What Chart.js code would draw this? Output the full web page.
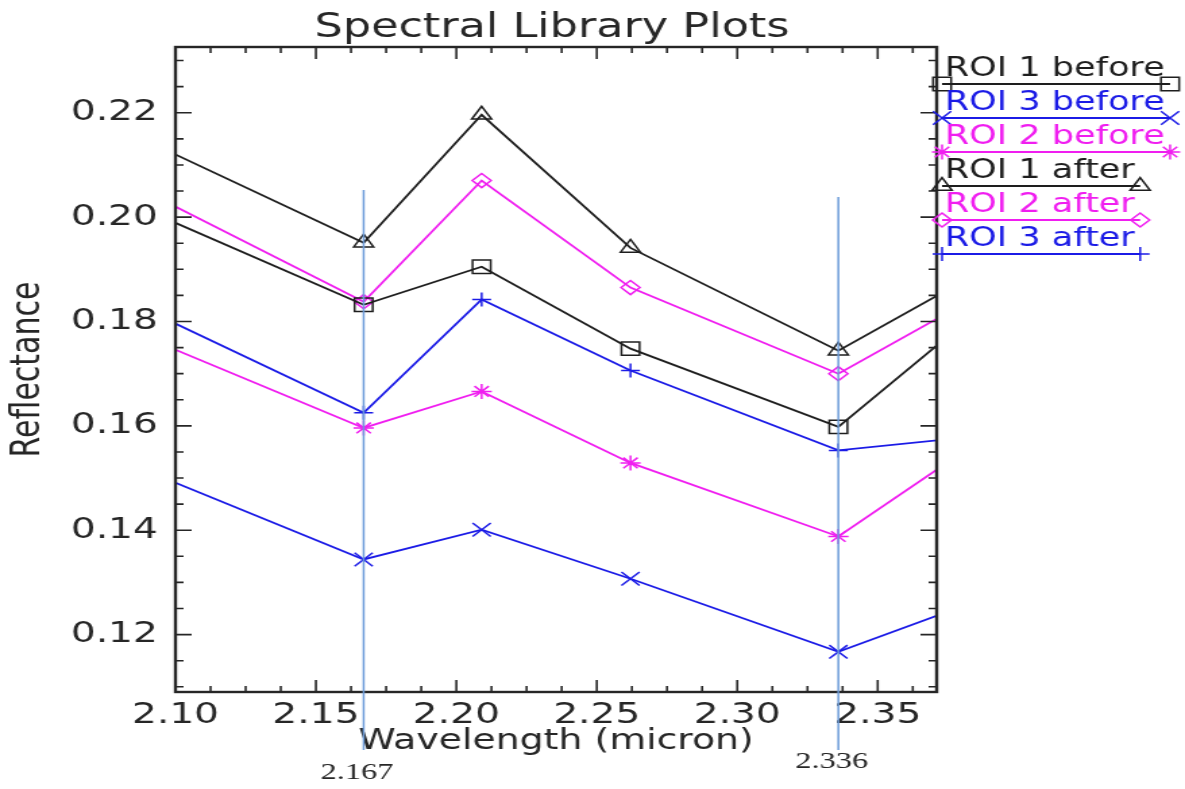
<!DOCTYPE html>
<html>
<head>
<meta charset="utf-8">
<title>Spectral Library Plots</title>
<script src="https://cdn.jsdelivr.net/npm/chart.js@4.4.1/dist/chart.umd.min.js"></script>
<style>
    html, body { margin: 0; padding: 0; background: #ffffff; }
    #spectra { display: block; }
</style>
</head>
<body>
<!-- the plot is drawn narrow and shown widened, like the exported ENVI window -->
<canvas id="spectra" width="878" height="789" style="width:1185px;height:789px"></canvas>
<script>
// ASTER SWIR band centres (micron); first and last bands fall outside the zoomed window
const wavelengths = [1.656, 2.167, 2.209, 2.262, 2.336, 2.400];

const roi1Before = [0.3029, 0.1832, 0.1905, 0.1748, 0.1598, 0.1883];
const roi3Before = [0.2465, 0.1344, 0.1401, 0.1307, 0.1167, 0.1293];
const roi2Before = [0.2740, 0.1596, 0.1666, 0.1529, 0.1388, 0.1622];
const roi1After  = [0.3240, 0.1951, 0.2196, 0.1941, 0.1744, 0.1936];
const roi2After  = [0.3226, 0.1838, 0.2070, 0.1865, 0.1700, 0.1892];
const roi3After  = [0.2929, 0.1625, 0.1842, 0.1706, 0.1553, 0.1588];

const seriesLabels = ['ROI 1 before', 'ROI 3 before', 'ROI 2 before', 'ROI 1 after', 'ROI 2 after', 'ROI 3 after'];

// vertical reference lines at two band centres
const markedBands = [2.167, 2.336];

const xRange = [2.10, 2.371];
const yRange = [0.1090, 0.2326];

const BLACK = '#1e1e1e';
const BLUE = '#1b1be6';
const MAGENTA = '#f01ef0';
const FRAME = '#262626';
const FONT = '"DejaVu Sans", sans-serif';

function toPoints(values) {
    return wavelengths.map((w, i) => ({ x: w, y: values[i] }));
}

function series(label, values, color, pointStyle, radius) {
    return {
        label: label,
        data: toPoints(values),
        borderColor: color,
        borderWidth: 1.8,
        pointStyle: pointStyle,
        pointRadius: radius,
        pointBorderColor: color,
        pointBackgroundColor: 'rgba(0,0,0,0)',
        pointBorderWidth: 1.5,
        tension: 0,
        fill: false
    };
}

// Box round the plot with inward ticks on all four sides
const frameTicks = {
    id: 'frameTicks',
    afterDatasetsDraw(chart) {
        const { ctx, chartArea: a, scales: { x, y } } = chart;
        ctx.save();
        ctx.strokeStyle = FRAME;
        ctx.lineWidth = 2.4;
        ctx.strokeRect(a.left, a.top, a.right - a.left, a.bottom - a.top);

        ctx.lineWidth = 1.6;
        ctx.beginPath();
        // x ticks every 0.0125, major every 0.05
        for (let i = 0; ; i++) {
            const v = xRange[0] + i * 0.0125;
            if (v > x.max) break;
            const px = x.getPixelForValue(v);
            const len = i % 4 === 0 ? 12 : 6;
            ctx.moveTo(px, a.bottom); ctx.lineTo(px, a.bottom - len);
            ctx.moveTo(px, a.top); ctx.lineTo(px, a.top + len);
        }
        // y ticks every 0.005, major every 0.02
        for (let i = 0; ; i++) {
            const v = 0.110 + i * 0.005;
            if (v > y.max) break;
            const py = y.getPixelForValue(v);
            const len = i % 4 === 2 ? 12 : 6;
            ctx.moveTo(a.left, py); ctx.lineTo(a.left + len, py);
            ctx.moveTo(a.right, py); ctx.lineTo(a.right - len, py);
        }
        ctx.stroke();
        ctx.restore();
    }
};

// plot title sitting just above the frame
const plotTitle = {
    id: 'plotTitle',
    afterDraw(chart) {
        const { ctx, chartArea: a } = chart;
        ctx.save();
        ctx.font = '33px ' + FONT;
        ctx.fillStyle = FRAME;
        ctx.textAlign = 'center';
        ctx.textBaseline = 'alphabetic';
        ctx.fillText('Spectral Library Plots', (a.left + a.right) / 2 - 3, 37);
        ctx.restore();
    }
};

// ENVI style legend: coloured name with a marked line under it
const roiLegend = {
    id: 'roiLegend',
    afterDraw(chart) {
        const ctx = chart.ctx;
        const x0 = chart.chartArea.right + 4;
        ctx.save();
        ctx.font = '26px ' + FONT;
        ctx.textBaseline = 'alphabetic';
        chart.data.datasets.forEach((ds, i) => {
            const lineY = 84 + i * 34;
            const w = ctx.measureText(ds.label).width;
            const x1 = x0 + w + 6;
            ctx.fillStyle = ds.borderColor;
            ctx.fillText(ds.label, x0 + 2, lineY - 8);

            ctx.strokeStyle = ds.borderColor;
            ctx.lineWidth = 1.8;
            ctx.beginPath();
            ctx.moveTo(x0, lineY);
            ctx.lineTo(x1, lineY);
            ctx.stroke();

            ctx.lineWidth = ds.pointBorderWidth;
            ctx.fillStyle = 'rgba(0,0,0,0)';
            const opts = { pointStyle: ds.pointStyle, radius: ds.pointRadius, borderWidth: ds.pointBorderWidth, rotation: 0 };
            Chart.helpers.drawPoint(ctx, opts, x0, lineY);
            Chart.helpers.drawPoint(ctx, opts, x1, lineY);
        });
        ctx.restore();
    }
};

// light blue band markers with their wavelength written underneath
const bandMarkers = {
    id: 'bandMarkers',
    afterDraw(chart) {
        const { ctx, scales: { x } } = chart;
        const tops = [190, 197];
        const labelY = [773, 762];
        ctx.save();
        markedBands.forEach((w, i) => {
            const px = x.getPixelForValue(w);
            ctx.strokeStyle = '#6c9bd9';
            ctx.lineWidth = 1.5;
            ctx.beginPath();
            ctx.moveTo(px, tops[i]);
            ctx.lineTo(px, 750);
            ctx.stroke();

            ctx.font = '24px "Liberation Serif", serif';
            ctx.fillStyle = '#262626';
            ctx.textAlign = 'center';
            ctx.textBaseline = 'middle';
            ctx.fillText(w.toFixed(3), px - 5, labelY[i]);
        });
        ctx.restore();
    }
};

const ctx = document.getElementById('spectra').getContext('2d');
const spectraChart = new Chart(ctx, {
    type: 'line',
    data: {
        datasets: [
            series(seriesLabels[0], roi1Before, BLACK, 'rect', 9.5),
            series(seriesLabels[1], roi3Before, BLUE, 'crossRot', 9.5),
            series(seriesLabels[2], roi2Before, MAGENTA, 'star', 7.5),
            series(seriesLabels[3], roi1After, BLACK, 'triangle', 8.5),
            series(seriesLabels[4], roi2After, MAGENTA, 'rectRot', 7),
            series(seriesLabels[5], roi3After, BLUE, 'cross', 7)
        ]
    },
    options: {
        responsive: false,
        animation: false,
        devicePixelRatio: 1,
        layout: {
            padding: { left: 0, right: 184, top: 47, bottom: 0 }
        },
        plugins: {
            legend: { display: false },
            tooltip: { enabled: false },
            title: { display: false }
        },
        scales: {
            x: {
                type: 'linear',
                min: xRange[0],
                max: xRange[1],
                grid: { display: false, drawTicks: false },
                border: { display: false },
                ticks: {
                    stepSize: 0.05,
                    includeBounds: false,
                    autoSkip: false,
                    maxRotation: 0,
                    padding: 6,
                    color: FRAME,
                    font: { family: FONT, size: 29 },
                    callback: v => v.toFixed(2)
                },
                title: {
                    display: true,
                    text: 'Wavelength (micron)',
                    color: FRAME,
                    font: { family: FONT, size: 28 },
                    padding: { top: 0, bottom: 30 }
                },
                afterFit: scale => { scale.height = 97; }
            },
            y: {
                min: yRange[0],
                max: yRange[1],
                grid: { display: false, drawTicks: false },
                border: { display: false },
                ticks: {
                    stepSize: 0.02,
                    includeBounds: false,
                    padding: 13,
                    color: FRAME,
                    font: { family: FONT, size: 29 },
                    callback: v => v.toFixed(2)
                },
                title: {
                    display: true,
                    text: 'Reflectance',
                    color: FRAME,
                    font: { family: FONT, size: 30 },
                    padding: { top: 3, bottom: 0 }
                },
                afterFit: scale => { scale.width = 130; }
            }
        }
    },
    plugins: [frameTicks, plotTitle, roiLegend, bandMarkers]
});
</script>
</body>
</html>
